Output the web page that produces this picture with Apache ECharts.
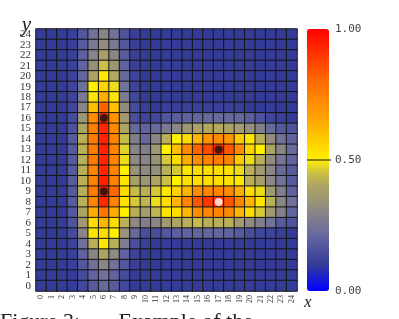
<!DOCTYPE html>
<html><head><meta charset="utf-8">
<script src="https://cdn.jsdelivr.net/npm/echarts@6/dist/echarts.min.js"></script>
<style>html,body{margin:0;padding:0;background:#fff}#c{width:399px;height:319px}</style>
</head><body><div id="c"></div>
<script>
const xLabels = ['0','1','2','3','4','5','6','7','8','9','10','11','12','13','14','15','16','17','18','19','20','21','22','23','24'];
const yLabels = ['0','1','2','3','4','5','6','7','8','9','10','11','12','13','14','15','16','17','18','19','20','21','22','23','24'];
// rows listed from y = 24 (top) down to y = 0 (bottom); columns x = 0..24
const zRows = [
 [.10,.10,.10,.11,.17,.24,.29,.24,.16,.11,.10,.10,.10,.10,.10,.10,.10,.10,.10,.10,.10,.10,.10,.10,.10],
 [.10,.10,.10,.11,.18,.26,.32,.26,.17,.11,.10,.10,.10,.10,.10,.10,.10,.10,.10,.10,.10,.10,.10,.10,.10],
 [.10,.10,.10,.11,.19,.29,.38,.30,.18,.11,.10,.10,.10,.10,.10,.10,.10,.10,.10,.10,.10,.10,.10,.10,.10],
 [.10,.10,.10,.11,.20,.33,.45,.35,.20,.11,.10,.10,.10,.10,.10,.10,.10,.10,.10,.10,.10,.10,.10,.10,.10],
 [.10,.10,.10,.12,.21,.40,.52,.41,.22,.12,.10,.10,.10,.10,.10,.10,.10,.10,.10,.10,.10,.10,.10,.10,.10],
 [.10,.10,.10,.12,.23,.50,.56,.48,.24,.12,.10,.10,.10,.10,.10,.10,.10,.10,.10,.10,.10,.10,.10,.10,.10],
 [.10,.10,.10,.12,.26,.52,.64,.52,.27,.13,.10,.10,.10,.10,.10,.10,.10,.10,.10,.10,.10,.10,.10,.10,.10],
 [.10,.10,.10,.13,.30,.60,.82,.60,.32,.14,.11,.10,.11,.11,.11,.11,.11,.11,.11,.11,.10,.10,.10,.10,.10],
 [.10,.10,.10,.14,.35,.72,.92,.70,.36,.15,.12,.13,.17,.19,.20,.21,.22,.22,.22,.21,.19,.16,.13,.11,.10],
 [.10,.10,.10,.16,.40,.75,.93,.72,.40,.22,.20,.22,.26,.30,.35,.39,.41,.41,.40,.37,.33,.28,.22,.18,.16],
 [.10,.10,.10,.18,.42,.76,.94,.74,.44,.28,.22,.30,.42,.50,.54,.62,.70,.72,.70,.58,.52,.42,.32,.24,.20],
 [.10,.10,.10,.18,.42,.76,.94,.74,.47,.30,.28,.36,.50,.60,.72,.82,.86,.92,.84,.72,.56,.50,.40,.30,.22],
 [.10,.10,.10,.18,.42,.76,.93,.74,.48,.31,.30,.34,.46,.54,.64,.72,.74,.76,.74,.58,.48,.42,.32,.25,.20],
 [.10,.10,.10,.18,.42,.74,.93,.74,.50,.34,.31,.33,.42,.46,.52,.54,.54,.54,.53,.48,.42,.36,.30,.22,.18],
 [.10,.10,.10,.18,.42,.74,.94,.74,.52,.38,.35,.40,.45,.50,.53,.54,.54,.54,.53,.52,.42,.38,.30,.24,.18],
 [.10,.10,.10,.18,.42,.76,.95,.80,.54,.44,.42,.46,.52,.56,.62,.72,.74,.74,.72,.64,.54,.48,.36,.28,.20],
 [.10,.10,.10,.18,.42,.74,.93,.74,.53,.46,.43,.48,.54,.62,.74,.84,.90,.92,.84,.74,.62,.52,.42,.30,.24],
 [.10,.10,.10,.17,.40,.64,.78,.64,.50,.42,.37,.43,.52,.54,.62,.72,.74,.74,.72,.62,.54,.46,.36,.28,.20],
 [.10,.10,.10,.16,.36,.54,.62,.54,.42,.31,.28,.30,.36,.40,.42,.44,.42,.42,.42,.36,.31,.28,.24,.18,.16],
 [.10,.10,.10,.14,.30,.52,.54,.50,.34,.22,.15,.15,.17,.19,.20,.21,.21,.21,.20,.18,.15,.13,.12,.11,.10],
 [.10,.10,.10,.12,.24,.42,.52,.42,.27,.15,.11,.10,.10,.10,.10,.10,.10,.10,.10,.10,.10,.10,.10,.10,.10],
 [.10,.10,.10,.11,.20,.30,.40,.31,.20,.12,.10,.10,.10,.10,.10,.10,.10,.10,.10,.10,.10,.10,.10,.10,.10],
 [.10,.10,.10,.11,.17,.24,.30,.24,.17,.11,.10,.10,.10,.10,.10,.10,.10,.10,.10,.10,.10,.10,.10,.10,.10],
 [.10,.10,.10,.10,.14,.20,.24,.20,.14,.10,.10,.10,.10,.10,.10,.10,.10,.10,.10,.10,.10,.10,.10,.10,.10],
 [.10,.10,.10,.10,.13,.18,.22,.18,.13,.10,.10,.10,.10,.10,.10,.10,.10,.10,.10,.10,.10,.10,.10,.10,.10]
];
const blackPoints = [[6,16],[6,9],[17,13]];
const whitePoints = [[17,8]];
const colorbarTicks = [0, 0.5, 1];
const colorStops = ['#0000ff','#1a1ecc','#343c98','#4a4f9c','#60639f','#767597','#8a8685','#9d9674',
                    '#ada464','#ccbf45','#fff000','#ffd800','#ffc000','#ffa800','#ff9400','#ff8000',
                    '#ff6a00','#ff5000','#ff3600','#ff1c00','#ff0000'];
const caption = 'Figure 3:       Example of the';
const yAxisTitle = 'y';

const heatData = [];
zRows.forEach((row, i) => row.forEach((v, x) => heatData.push([x, 24 - i, v])));

const serif = 'Liberation Serif, DejaVu Serif, serif';
const chart = echarts.init(document.getElementById('c'), null, {renderer: 'canvas'});
chart.setOption({
  animation: false,
  backgroundColor: '#fff',
  title: {text: caption, left: 0, top: 311, padding: 0,
    textStyle: {fontFamily: serif, fontSize: 22, fontWeight: 'normal', color: '#222'}},
  grid: [
    {left: 36, top: 29, width: 261, height: 262},
    {left: 307, top: 29, width: 22, height: 262}
  ],
  xAxis: [
    {type: 'category', gridIndex: 0, data: xLabels,
     name: 'x', nameLocation: 'end', nameGap: 7,
     nameTextStyle: {fontFamily: serif, fontStyle: 'italic', fontSize: 17, color: '#222', verticalAlign: 'top', padding: [3, 0, 0, 0]},
     axisLine: {show: false}, axisTick: {show: false}, splitLine: {show: false},
     axisLabel: {rotate: 90, fontSize: 8, margin: 4, fontFamily: serif, color: '#333', interval: 0}},
    {type: 'value', gridIndex: 1, show: false, min: 0, max: 1}
  ],
  yAxis: [
    {type: 'category', gridIndex: 0, data: yLabels,
     axisLine: {show: false}, axisTick: {show: false}, splitLine: {show: false},
     axisLabel: {fontSize: 11, margin: 5, fontFamily: serif, color: '#333', interval: 0}},
    {type: 'value', gridIndex: 1, position: 'right', min: colorbarTicks[0], max: colorbarTicks[2], interval: 0.5,
     axisLine: {show: false}, splitLine: {show: false}, axisTick: {show: false},
     axisLabel: {margin: 6, fontFamily: 'DejaVu Sans Mono, monospace', fontSize: 11, color: '#444', formatter: v => v.toFixed(2)}}
  ],
  visualMap: {
    type: 'continuous', min: 0, max: 1, seriesIndex: 0, calculable: false,
    orient: 'vertical', left: 307, top: 29, itemWidth: 22, itemHeight: 262, padding: 0,
    inRange: {color: colorStops}, hoverLink: false
  },
  series: [
    {type: 'heatmap', xAxisIndex: 0, yAxisIndex: 0, data: heatData,
     itemStyle: {borderColor: '#151515', borderWidth: 1}, emphasis: {disabled: true}},
    {type: 'scatter', xAxisIndex: 0, yAxisIndex: 0, data: blackPoints, symbolSize: 8, z: 5,
     itemStyle: {color: '#111'}},
    {type: 'scatter', xAxisIndex: 0, yAxisIndex: 0, data: whitePoints, symbolSize: 8, z: 5,
     itemStyle: {color: '#fff'}}
  ]
});
// colorbar tick mark at 0.50, placed through the colorbar axis scale
const tickY = chart.convertToPixel({yAxisIndex: 1}, colorbarTicks[1]);
chart.setOption({
  graphic: [
    {type: 'line', z: 100, silent: true,
     shape: {x1: 307, y1: tickY, x2: 331, y2: tickY},
     style: {stroke: '#55551c', lineWidth: 1.5}},
    {type: 'text', z: 100, silent: true, x: 31, y: 36,
     style: {text: yAxisTitle, font: 'italic 21px ' + serif, fill: '#222', align: 'right', verticalAlign: 'bottom'}}
  ]
});
</script></body></html>
